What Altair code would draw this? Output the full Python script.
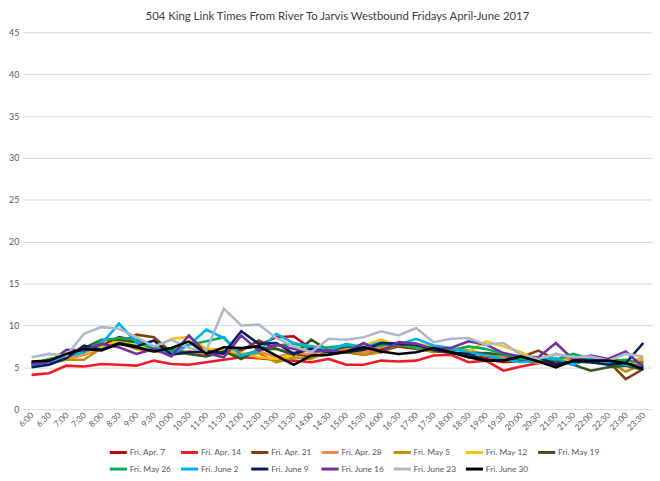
import altair as alt
import pandas as pd

times = ["6:00","6:30","7:00","7:30","8:00","8:30","9:00","9:30","10:00","10:30","11:00","11:30",
         "12:00","12:30","13:00","13:30","14:00","14:30","15:00","15:30","16:00","16:30","17:00","17:30",
         "18:00","18:30","19:00","19:30","20:00","20:30","21:00","21:30","22:00","22:30","23:00","23:30"]

series_names = ["Fri. Apr. 7","Fri. Apr. 14","Fri. Apr. 21","Fri. Apr. 28","Fri. May 5","Fri. May 12",
                "Fri. May 19","Fri. May 26","Fri. June 2","Fri. June 9","Fri. June 16","Fri. June 23","Fri. June 30"]

apr7  = [5.6,5.8,6.3,7.0,7.6,8.6,8.2,7.4,7.0,6.8,6.5,6.8,7.2,7.6,8.6,8.7,7.2,6.8,7.0,6.9,7.2,7.6,7.4,6.9,6.8,6.3,6.0,5.6,5.8,5.9,5.3,5.8,5.6,5.7,5.5,5.0]
apr14 = [4.1,4.3,5.2,5.1,5.4,5.3,5.2,5.8,5.4,5.3,5.6,5.9,6.2,6.1,5.9,5.8,5.6,6.0,5.3,5.3,5.8,5.7,5.8,6.4,6.5,5.6,5.8,4.6,5.1,5.5,5.7,5.8,6.0,5.9,5.8,5.6]
apr21 = [5.5,5.7,6.2,6.8,7.4,7.8,8.9,8.6,6.8,6.7,6.9,6.6,7.0,8.2,7.2,6.6,6.3,6.5,6.8,6.5,6.9,7.5,7.2,7.0,6.8,6.2,6.3,6.0,6.2,7.0,5.9,5.6,5.8,5.7,3.6,4.8]
apr28 = [5.4,5.8,6.0,6.5,7.2,7.9,7.6,7.0,6.8,6.9,6.6,7.0,6.5,6.9,6.2,6.8,6.5,7.2,7.3,6.8,7.4,8.0,7.8,7.1,7.3,6.8,6.4,6.2,5.9,5.5,6.6,6.0,6.2,5.9,5.4,6.2]
may5  = [5.2,5.5,5.9,5.9,7.3,8.0,7.2,6.9,6.7,6.6,7.0,6.8,6.4,6.7,5.6,6.2,6.0,7.0,6.9,6.5,6.8,7.8,7.3,6.8,7.3,7.0,6.6,5.9,5.7,5.8,6.0,5.9,5.6,5.7,4.5,5.4]
may12 = [5.6,5.8,6.2,6.7,7.4,8.2,7.6,7.3,8.4,8.6,7.2,7.1,6.7,6.2,6.0,6.5,7.6,7.2,7.5,7.6,8.3,7.6,7.8,7.5,7.2,6.9,8.1,7.5,6.8,5.8,6.1,5.6,5.7,5.5,5.6,5.9]
may19 = [5.4,5.8,6.6,7.3,8.3,8.3,8.0,7.3,7.2,6.6,6.3,6.9,6.0,7.2,7.2,6.5,8.3,7.0,7.5,7.3,7.8,7.6,7.8,7.0,6.7,6.6,6.7,6.5,5.8,5.7,5.8,5.3,4.6,5.0,5.2,4.7]
may26 = [5.3,6.0,6.3,6.8,8.2,8.5,8.3,7.0,6.9,7.7,8.1,8.6,6.4,7.0,7.6,7.8,7.3,7.4,7.6,7.3,7.6,7.9,7.3,7.4,7.0,7.5,7.2,6.6,6.0,6.2,5.9,6.6,6.0,5.7,5.9,5.4]
jun2  = [5.2,5.5,6.3,6.8,7.8,10.2,8.0,7.5,6.6,7.6,9.5,8.5,6.4,6.9,9.0,7.9,7.5,7.0,7.8,7.4,8.0,7.7,8.4,7.6,7.3,6.8,6.4,6.0,5.6,5.8,6.1,5.3,6.1,5.5,5.3,5.0]
jun9  = [5.0,5.3,6.1,7.6,7.1,7.9,7.5,8.2,6.5,6.8,6.9,6.7,9.3,7.8,7.9,6.6,7.2,6.8,6.8,7.1,7.9,7.8,7.7,7.1,6.8,6.6,5.8,5.8,6.3,6.1,5.4,5.7,5.6,5.3,5.5,7.9]
jun16 = [5.4,5.6,7.1,7.0,7.8,7.4,6.6,7.2,6.3,8.8,6.7,6.2,8.8,7.0,7.7,7.2,6.9,7.0,6.8,7.9,6.8,8.0,7.8,7.2,7.3,8.1,7.7,6.7,6.3,6.2,7.9,5.9,6.4,6.0,6.9,5.0]
jun23 = [6.2,6.6,6.4,9.0,9.8,9.6,8.6,7.5,8.3,7.3,7.0,12.0,10.0,10.1,8.5,7.5,6.8,8.4,8.3,8.6,9.3,8.8,9.7,8.0,8.4,8.5,7.7,7.9,6.5,6.0,6.6,6.2,6.3,5.8,6.6,6.3]
jun30 = [5.7,5.8,6.6,7.2,7.0,7.8,7.4,6.9,7.3,8.1,6.6,7.4,7.3,7.5,6.4,5.3,6.4,6.5,6.9,7.4,6.9,6.6,6.8,7.3,6.8,6.2,5.8,5.8,6.3,5.7,5.0,5.8,5.8,5.8,5.5,4.8]

colors = ["#C00000","#EE1C25","#843C0C","#F08A4B","#BF9000","#FFC000","#375623",
          "#00B050","#00B0F0","#002060","#7030A0","#ADB9CA","#000000"]

all_vals = [apr7,apr14,apr21,apr28,may5,may12,may19,may26,jun2,jun9,jun16,jun23,jun30]
rows = []
for si, (name, vals) in enumerate(zip(series_names, all_vals)):
    for t, v in zip(times, vals):
        rows.append({"time": t, "value": v, "series": name, "ord": si})
df = pd.DataFrame(rows)

FONT = "Lato"

chart = alt.Chart(df).mark_line(strokeWidth=2.6, strokeJoin="miter").encode(
    x=alt.X("time:N", sort=times, title=None,
            scale=alt.Scale(type="point", padding=0.5),
            axis=alt.Axis(labelAngle=-45, labelFontSize=8.5, labelColor="#595959",
                          labelFont=FONT, ticks=False, domain=False, grid=False,
                          labelPadding=4, labelAlign="right", labelBaseline="middle")),
    y=alt.Y("value:Q", title=None,
            scale=alt.Scale(domain=[0, 45], nice=False),
            axis=alt.Axis(values=list(range(0, 50, 5)), labelFontSize=9, labelColor="#595959",
                          labelFont=FONT, ticks=False, domain=False, gridColor="#D9D9D9",
                          gridWidth=1, labelPadding=4)),
    color=alt.Color("series:N", sort=series_names,
                    scale=alt.Scale(domain=series_names, range=colors),
                    legend=alt.Legend(title=None, orient="none", legendX=86, legendY=414,
                                      direction="horizontal", columns=7, symbolType="stroke",
                                      symbolSize=300, symbolStrokeWidth=3, labelFontSize=8.5,
                                      labelFont=FONT, labelColor="#595959", columnPadding=2,
                                      rowPadding=0, labelOffset=1)),
    order=alt.Order("ord:Q"),
    detail="series:N",
).properties(
    width=636, height=381,
    padding={"left": 0, "right": 0, "top": 0, "bottom": 0},
    title=alt.Title("504 King Link Times From River To Jarvis Westbound Fridays April-June 2017",
                    fontSize=11.5, font=FONT, fontWeight="normal", color="#404040",
                    anchor="middle", offset=6),
).configure_view(stroke=None)

chart.save("out.html", embed_options={"renderer": "svg", "actions": False})
